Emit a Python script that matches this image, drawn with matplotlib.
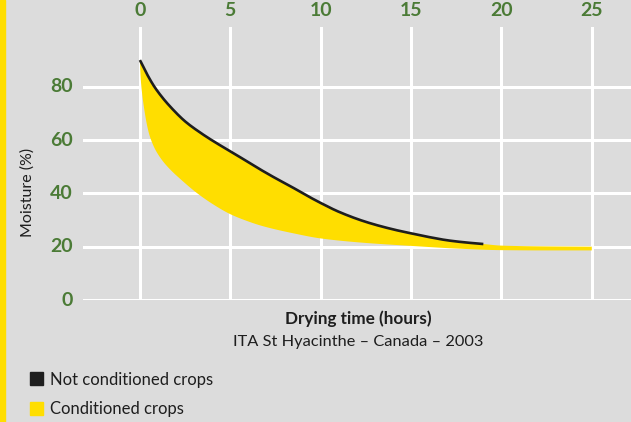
import matplotlib
matplotlib.use("Agg")
import matplotlib.pyplot as plt
from matplotlib.patches import Rectangle
import numpy as np

# Data
x_ticks = [0, 5, 10, 15, 20, 25]
y_ticks = [0, 20, 40, 60, 80]

not_cond_hours = [0, 0.4, 0.8, 1.2, 1.6, 2.5, 3.4, 4.2, 5, 5.8, 6.5, 7.5, 8.4, 9.2, 10, 11, 12.5, 14, 15, 16, 17, 18, 19]
not_cond_vals = [90, 84.6, 80, 76.3, 73.1, 67, 62.5, 59, 55.8, 52.5, 49.6, 45.7, 42.4, 39.3, 36.4, 33.1, 29.3, 26.5, 25, 23.6, 22.4, 21.6, 21]

cond_hours = [0, 0.05, 0.12, 0.24, 0.38, 0.52, 0.7, 0.9, 1.3, 1.8, 2.2, 3.1, 4, 5, 5.9, 6.8, 8.5, 10, 12.5, 15, 17.5, 20, 22.5, 25]
cond_vals = [89, 82.5, 77.5, 71.5, 66, 62, 58.6, 55.8, 51.8, 48.1, 45.6, 40.4, 36.1, 32.2, 29.7, 27.7, 25, 23.1, 21.4, 20.3, 19.3, 18.7, 18.6, 18.6]

cond_top_hours = [19, 20, 22.5, 25]
cond_top_vals = [21, 20.4, 20.1, 20]


def pchip(x, y, n=400):
    """Monotone cubic rendering of the read points (for a smooth drawn curve)."""
    x = np.asarray(x, float)
    y = np.asarray(y, float)
    h = np.diff(x)
    d = np.diff(y) / h
    m = np.zeros_like(y)
    for k in range(1, len(x) - 1):
        if d[k - 1] * d[k] > 0:
            w1 = 2 * h[k] + h[k - 1]
            w2 = h[k] + 2 * h[k - 1]
            m[k] = (w1 + w2) / (w1 / d[k - 1] + w2 / d[k])
    m[0] = d[0]
    m[-1] = d[-1]
    xs = np.linspace(x[0], x[-1], n)
    idx = np.clip(np.searchsorted(x, xs) - 1, 0, len(x) - 2)
    t = (xs - x[idx]) / h[idx]
    h00 = 2 * t**3 - 3 * t**2 + 1
    h10 = t**3 - 2 * t**2 + t
    h01 = -2 * t**3 + 3 * t**2
    h11 = t**3 - t**2
    ys = h00 * y[idx] + h10 * h[idx] * m[idx] + h01 * y[idx + 1] + h11 * h[idx] * m[idx + 1]
    return xs, ys


BG = "#dcdcdc"
YELLOW = "#ffde00"
GREEN = "#4b7b36"
DARK = "#1e1e1e"
FONT = ["Lato", "DejaVu Sans"]

fig = plt.figure(figsize=(6.31, 4.22), dpi=100)
fig.patch.set_facecolor(BG)
W, H = 631, 422

# left yellow stripe
fig.add_artist(Rectangle((0, 0), 5 / W, 1, transform=fig.transFigure, color=YELLOW, zorder=0))

left, right, top, bottom = 83, 631, 27, 300
ax = fig.add_axes([left / W, 1 - bottom / H, (right - left) / W, (bottom - top) / H])
ax.set_facecolor(BG)
x0 = -3.15
x1 = 27.17
ax.set_xlim(x0, x1)
ax.set_ylim(0, 102.4)
for s in ax.spines.values():
    s.set_visible(False)

# grid
for yv in y_ticks:
    ax.axhline(yv, color="white", lw=2.2, zorder=1)
for xv in x_ticks:
    ax.axvline(xv, color="white", lw=2.2, zorder=1)

# yellow band
nx, ny = pchip(not_cond_hours, not_cond_vals)
tx, ty = pchip(cond_top_hours, cond_top_vals, 60)
cx, cy = pchip(cond_hours, cond_vals, 2000)
poly_x = np.concatenate([nx, tx[1:], cx[::-1]])
poly_y = np.concatenate([ny, ty[1:], cy[::-1]])
ax.fill(poly_x, poly_y, color=YELLOW, lw=0, zorder=2)

ax.plot(nx, ny, color=DARK, lw=1.9, zorder=3, solid_capstyle="butt")

ax.set_xticks([])
ax.set_yticks([])

# tick labels
for xv in x_ticks:
    ax.text(xv, 1.0 + 8 / (bottom - top), str(xv), transform=ax.get_xaxis_transform(),
            ha="center", va="bottom", color=GREEN, fontsize=14, fontweight="bold", family=FONT)
for yv in y_ticks:
    ax.text(x0 - 0.55, yv, str(yv), ha="right", va="center", color=GREEN,
            fontsize=14, fontweight="bold", family=FONT)

fig.text(28 / W, 1 - 192 / H, "Moisture (%)", rotation=90, ha="center", va="center",
         color=DARK, fontsize=11.5, family=FONT)
fig.text(358 / W, 1 - 319 / H, "Drying time (hours)", ha="center", va="center",
         color=DARK, fontsize=12.3, fontweight="bold", family=FONT)
fig.text(358 / W, 1 - 342 / H, "ITA St Hyacinthe \u2013 Canada \u2013 2003", ha="center", va="center",
         color=DARK, fontsize=11.8, family=FONT)

# legend
fig.add_artist(Rectangle((30 / W, 1 - 385 / H), 13 / W, 13 / H, transform=fig.transFigure, color=DARK))
fig.text(50 / W, 1 - 380 / H, "Not conditioned crops", ha="left", va="center",
         color=DARK, fontsize=12, family=FONT)
fig.add_artist(Rectangle((30 / W, 1 - 415 / H), 13 / W, 13 / H, transform=fig.transFigure, color=YELLOW))
fig.text(50 / W, 1 - 409 / H, "Conditioned crops", ha="left", va="center",
         color=DARK, fontsize=12, family=FONT)

fig.savefig("out.png", dpi=100, facecolor=BG)
